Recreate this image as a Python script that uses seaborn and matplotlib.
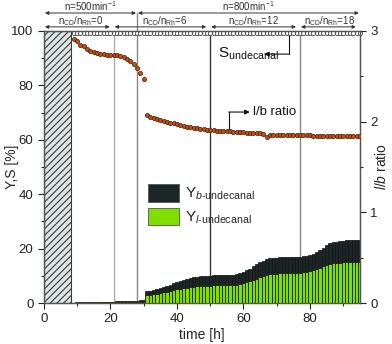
import matplotlib
matplotlib.use("Agg")
import matplotlib.pyplot as plt
import seaborn as sns
from matplotlib.patches import Patch
from matplotlib.ticker import MultipleLocator

# sampling times [h], one value per hour
hours = list(range(9, 96))

# l/b ratio (right axis)
lb_ratio = [2.91, 2.89, 2.84, 2.83, 2.80, 2.78, 2.77, 2.76, 2.75, 2.75, 2.74,
            2.74, 2.73, 2.73, 2.72, 2.71, 2.69, 2.67, 2.64, 2.59, 2.54, 2.47,
            2.07, 2.05, 2.04, 2.03, 2.02, 2.01, 2.00, 1.99, 1.98, 1.97, 1.96,
            1.95, 1.94, 1.94, 1.93, 1.93, 1.92, 1.92, 1.91, 1.91,
            1.91, 1.90, 1.90, 1.90, 1.90, 1.90, 1.89, 1.89, 1.89, 1.89, 1.88,
            1.88, 1.88, 1.87, 1.87, 1.86,
            1.835,
            1.85, 1.85, 1.85, 1.85, 1.85, 1.85, 1.85, 1.85, 1.85, 1.85, 1.85,
            1.85, 1.85, 1.84, 1.84, 1.84, 1.84, 1.84, 1.84, 1.84, 1.84, 1.84,
            1.84, 1.84, 1.84, 1.84, 1.84, 1.84]

# total aldehyde yield (b + l) and linear yield [%]
y_total = [0.2, 0.25, 0.3, 0.3, 0.35, 0.35, 0.4, 0.4, 0.45, 0.45, 0.5, 0.5,
           0.55, 0.6, 0.65, 0.7, 0.75, 0.8, 0.85, 0.9, 1.0, 1.1,
           4.4, 4.6, 4.9, 5.2, 5.5, 5.9, 6.3, 6.8, 7.3, 7.7, 8.2, 8.6, 8.9,
           9.2, 9.4, 9.6, 9.8, 9.9, 10.0, 10.1, 10.2, 10.2, 10.3, 10.3, 10.3,
           10.4, 10.4, 10.6, 10.9, 11.4, 12.0, 12.7, 13.5, 14.3, 15.0, 15.6,
           16.1, 16.4, 16.6, 16.7, 16.8, 16.9, 16.9, 17.0, 17.0, 17.0, 17.1,
           17.2, 17.4, 17.7, 18.2, 18.9, 19.6, 20.4, 21.2, 21.9, 22.3, 22.6,
           22.8, 22.9, 23.0, 23.0, 23.1, 23.1, 23.1]
y_linear = [0.1, 0.12, 0.15, 0.15, 0.18, 0.18, 0.2, 0.2, 0.22, 0.22, 0.25,
            0.25, 0.28, 0.3, 0.32, 0.35, 0.38, 0.4, 0.42, 0.45, 0.5, 0.55,
            2.8, 3.0, 3.2, 3.4, 3.6, 3.9, 4.2, 4.5, 4.8, 5.0, 5.2, 5.4, 5.6,
            5.8, 6.0, 6.1, 6.2, 6.3, 6.4, 6.4, 6.5, 6.5, 6.6, 6.6, 6.6, 6.7,
            6.7, 6.8, 6.9, 7.2, 7.6, 8.0, 8.5, 9.0, 9.5, 9.9, 10.3, 10.5,
            10.7, 10.8, 10.9, 11.0, 11.0, 11.1, 11.1, 11.1, 11.2, 11.3, 11.5,
            11.8, 12.2, 12.6, 13.0, 13.5, 13.9, 14.3, 14.6, 14.8, 14.9, 15.0,
            15.0, 15.1, 15.1, 15.1, 15.1]

# selectivity to undecanal [%]
s_undecanal = [
    99.3, 99.3, 99.3, 99.3, 99.3, 99.3, 99.3, 99.3, 99.3, 99.3, 99.3, 99.3,
    99.3, 99.3, 99.3, 99.3, 99.3, 99.3, 99.3, 99.3, 99.3, 99.3, 99.3, 99.3,
    99.3, 99.3, 99.3, 99.3, 99.3, 99.3, 99.3, 99.3, 99.3, 99.3, 99.3, 99.3,
    99.3, 99.3, 99.3, 99.3, 99.3, 99.3, 99.3, 99.3, 99.3, 99.3, 99.3, 99.3,
    99.3, 99.3, 99.3, 99.3, 99.3, 99.3, 99.3, 99.3, 99.3, 99.3, 99.3, 99.3,
    99.3, 99.3, 99.3, 99.3, 99.3, 99.3, 99.3, 99.3, 99.3, 99.3, 99.3, 99.3,
    99.3, 99.3, 99.3, 99.3, 99.3, 99.3, 99.3, 99.3, 99.3, 99.3, 99.3, 99.3,
    99.3, 99.3, 99.3]

# phase boundaries [h]
stirring_bounds = [0, 28, 95]
stirring_labels = ["n=500min$^{-1}$", "n=800min$^{-1}$"]
ratio_bounds = [0, 21, 50, 77, 95]
ratio_labels = ["0", "6", "12", "18"]
ratio_text_x = [11, 36.5, 63, 86]

sns.set_style("ticks")
plt.rcParams["font.family"] = ["Liberation Sans", "DejaVu Sans"]
plt.rcParams["mathtext.fontset"] = "custom"
plt.rcParams["mathtext.rm"] = "Liberation Sans"
plt.rcParams["mathtext.it"] = "Liberation Sans:italic"
plt.rcParams["hatch.linewidth"] = 0.8

GREEN = "#7fe000"
DARK = "#1c2628"
TXT = "#333333"

fig = plt.figure(figsize=(3.92, 3.44), dpi=100)
ax = fig.add_axes([0.112, 0.119, 0.806, 0.791])

# catalyst preformation period
ax.axvspan(0, 8, facecolor="#dde5e5", edgecolor="#3a3a3a", hatch="/////",
           linewidth=0.8, zorder=1)

# vertical phase separators
for xv, col in [(21, "#aaaaaa"), (28, "#888888"), (50, "#333333"), (77, "#888888")]:
    ax.axvline(xv, color=col, lw=1.0, zorder=1)
ax.plot([28, 28], [100, 106.6], color="#888888", lw=1.0, clip_on=False)

sns.barplot(x=hours, y=y_total, native_scale=True, width=1.0, color=DARK,
            saturation=1, edgecolor="#111111", linewidth=0.5, errorbar=None,
            ax=ax, zorder=2)
sns.barplot(x=hours, y=y_linear, native_scale=True, width=1.0, color=GREEN,
            saturation=1, edgecolor="#111111", linewidth=0.5, errorbar=None,
            ax=ax, zorder=3)

ax.plot(hours, s_undecanal, ls="none", marker="o", ms=3.0, mfc="white",
        mec="#444444", mew=0.6, zorder=4, clip_on=False)

ax.set_xlim(0, 95)
ax.set_ylim(0, 100)
ax.xaxis.set_major_locator(MultipleLocator(20))
ax.xaxis.set_minor_locator(MultipleLocator(10))
ax.yaxis.set_major_locator(MultipleLocator(20))
ax.yaxis.set_minor_locator(MultipleLocator(10))
ax.tick_params(which="major", direction="out", length=4, width=0.8,
               labelsize=9.5, colors="#222222")
ax.tick_params(which="minor", direction="out", length=2, width=0.8)
ax.set_xlabel("time [h]", fontsize=10, labelpad=2)
ax.set_ylabel("Y,S [%]", fontsize=10)
ax.yaxis.set_label_coords(-0.08, 0.5)
for sp in ax.spines.values():
    sp.set_color("#555555")
    sp.set_linewidth(0.9)

ax2 = ax.twinx()
sns.scatterplot(x=hours, y=lb_ratio, ax=ax2, s=9, color="#c0501a",
                edgecolor="#4a1800", linewidth=0.5, zorder=5)
ax2.set_ylim(0, 3)
ax2.yaxis.set_major_locator(MultipleLocator(1))
ax2.yaxis.set_minor_locator(MultipleLocator(0.5))
ax2.tick_params(which="major", direction="out", length=4, width=0.8,
                labelsize=9.5, colors="#222222")
ax2.tick_params(which="minor", direction="out", length=2, width=0.8)
ax2.set_ylabel(r"$\it{l/b}$ ratio", fontsize=10)
ax2.yaxis.set_label_coords(1.045, 0.5)
for sp in ax2.spines.values():
    sp.set_color("#555555")
    sp.set_linewidth(0.9)

# arrows and labels above the frame
arrow_kw = dict(arrowstyle="<|-|>", color="#333333", lw=0.7,
                mutation_scale=5, shrinkA=0, shrinkB=0)
for (a, b), lab in zip(zip(stirring_bounds[:-1], stirring_bounds[1:]), stirring_labels):
    ax.annotate("", xy=(a + 0.3, 106.6), xytext=(b - 0.3, 106.6),
                arrowprops=arrow_kw, annotation_clip=False)
    ax.text((a + b) / 2, 109.2, lab, ha="center", va="center", fontsize=7,
            color=TXT, clip_on=False)
for (a, b), lab, tx in zip(zip(ratio_bounds[:-1], ratio_bounds[1:]),
                           ratio_labels, ratio_text_x):
    ax.annotate("", xy=(a + 0.3, 101.5), xytext=(b - 1.2, 101.5),
                arrowprops=arrow_kw, annotation_clip=False)
    ax.text(tx, 103.7, "n$_{\\mathrm{CD}}$/n$_{\\mathrm{Rh}}$=" + lab,
            ha="center", va="center", fontsize=7, color=TXT, clip_on=False)

# series annotations
ax.plot([73.6, 73.6], [99, 91.5], color="#111111", lw=0.8)
ax.annotate("", xy=(66.2, 91.5), xytext=(73.6, 91.5),
            arrowprops=dict(arrowstyle="-|>", color="#111111", lw=0.8,
                            mutation_scale=7, shrinkA=0, shrinkB=0))
ax.text(52.3, 91.5, "S$_{\\mathrm{undecanal}}$", fontsize=11, va="center",
        ha="left", color="#111111")

ax.plot([55.6, 55.6], [63.5, 70.2], color="#111111", lw=0.8)
ax.annotate("", xy=(61.9, 70.2), xytext=(55.6, 70.2),
            arrowprops=dict(arrowstyle="-|>", color="#111111", lw=0.8,
                            mutation_scale=7, shrinkA=0, shrinkB=0))
ax.text(63.0, 70.2, "l/b ratio", fontsize=9.5, va="center", ha="left",
        color="#111111")

handles = [Patch(facecolor=DARK, edgecolor="#555555", linewidth=0.6),
           Patch(facecolor=GREEN, edgecolor="#555555", linewidth=0.6)]
labels = [r"Y$_{\it{b}\text{-undecanal}}$", r"Y$_{\it{l}\text{-undecanal}}$"]
ax.legend(handles, labels, loc="upper left", bbox_to_anchor=(0.31, 0.46),
          frameon=False, fontsize=11, handlelength=2.0, handleheight=1.4,
          handletextpad=0.4, labelspacing=0.35, borderaxespad=0)

fig.savefig("out.png", dpi=100)
